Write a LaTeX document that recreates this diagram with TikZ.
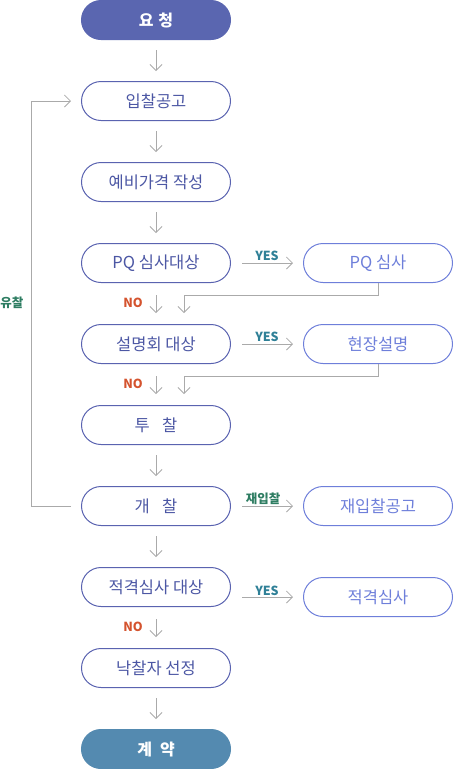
\documentclass[tikz,border=0pt]{standalone}
\usepackage{fontspec}
\setmainfont{Noto Sans CJK KR}
\usetikzlibrary{positioning, arrows.meta}
\definecolor{reqblue}{HTML}{5A66B0}
\definecolor{contractblue}{HTML}{548AB0}
\definecolor{leftblue}{HTML}{5A63B0}
\definecolor{lefttext}{HTML}{4C57A4}
\definecolor{rightblue}{HTML}{6E7FDA}
\definecolor{arrowgray}{HTML}{AAAAAA}
\definecolor{yesteal}{HTML}{2F8097}
\definecolor{nored}{HTML}{D4532E}
\definecolor{failgreen}{HTML}{2E7D62}

\begin{document}
\begin{tikzpicture}[x=1pt, y=-1pt,
  box/.style={draw=leftblue, line width=1pt, rounded corners=19.5pt, minimum width=149pt, minimum height=39pt, text=lefttext, font=\fontsize{16.5}{19}\selectfont},
  rbox/.style={box, draw=rightblue, text=rightblue},
  filled/.style={box, fill=#1, draw=#1, text=white, font=\bfseries\fontsize{16}{19}\selectfont},
  arr/.style={draw=arrowgray, line width=0.8pt, shorten <=10pt, shorten >=10pt, -{Straight Barb[length=6pt,width=12pt]}},
  tag/.style={font=\bfseries\fontsize{12.5}{14}\selectfont}]
\useasboundingbox (0,0) rectangle (454,769);
% left column
\node[filled=reqblue] (req) at (156,20) {요\hspace{0.3em}청};
\node[box] (bid) at (156,101) {입찰공고};
\node[box] (est) at (156,182) {예비가격 작성};
\node[box] (pq) at (156,263) {PQ 심사대상};
\node[box] (expl) at (156,344) {설명회 대상};
\node[box] (tender) at (156,425) {투\hspace{0.75em}찰};
\node[box] (open) at (156,506) {개\hspace{0.75em}찰};
\node[box] (qual) at (156,587) {적격심사 대상};
\node[box] (award) at (156,668) {낙찰자 선정};
\node[filled=contractblue] (contract) at (156,749) {계\hspace{0.5em}약};
% right column
\node[rbox] (pqr) at (378,263) {PQ 심사};
\node[rbox] (explr) at (378,344) {현장설명};
\node[rbox] (openr) at (378,506) {재입찰공고};
\node[rbox] (qualr) at (378,597) {적격심사};

% down arrows
\foreach \a/\b in {req/bid, bid/est, est/pq, tender/open, open/qual, award/contract}
  \draw[arr] (\a) -- (\b);
\foreach \a/\b in {pq/expl, expl/tender, qual/award}
  \draw[arr, shorten <=12pt, shorten >=11pt] (\a) -- (\b);

% yes arrows
\draw[arr, shorten <=11pt] (pq) -- (pqr);
\draw[arr, shorten <=11pt] (expl) -- (explr);
\draw[arr, shorten <=11pt] (open) -- (openr);
\draw[arr, shorten <=11pt] (qual.east |- qualr) -- (qualr);

% back to left column
\coordinate (j1) at (184,295);
\coordinate (j2) at (184,376);
\draw[arr, shorten <=0pt, shorten >=11pt] (pqr.south) |- (j1) -- (j1 |- expl.north);
\draw[arr, shorten <=0pt, shorten >=11pt] (explr.south) |- (j2) -- (j2 |- tender.north);
\draw[arr] (open.west) -- ++(-50,0) |- (bid.west);

% labels
\node[tag, text=yesteal] (yes1) at (267,256) {YES};
\node[tag, text=yesteal] (yes2) at (267,337) {YES};
\node[tag, text=failgreen] (rebid) at (263,499) {재입찰};
\node[tag, text=yesteal] (yes3) at (267,591) {YES};
\node[tag, text=nored] (no1) at (133,303) {NO};
\node[tag, text=nored] (no2) at (133,384) {NO};
\node[tag, text=nored] (no3) at (133,627) {NO};
\node[tag, text=failgreen] (fail) at (12,303) {유찰};
\end{tikzpicture}
\end{document}
